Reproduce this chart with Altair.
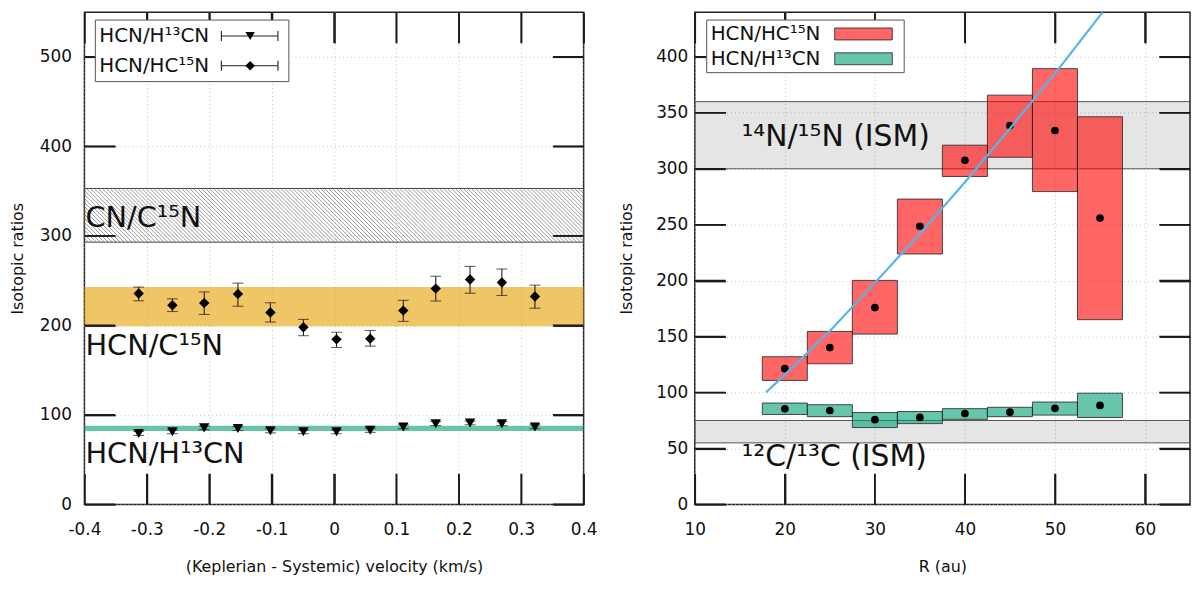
import numpy as np
import pandas as pd
import altair as alt

FONT = "DejaVu Sans"

# ---- left panel: ratios per velocity channel ----
vel = [-0.313, -0.259, -0.208, -0.154, -0.102, -0.049, 0.004, 0.058, 0.111, 0.163, 0.218, 0.269, 0.322]
hc15n = [235.6, 222.5, 225.0, 235.2, 214.4, 197.9, 184.4, 185.2, 216.5, 241.1, 251.3, 248.0, 232.3]
hc15n_lo = [227.5, 215.5, 212.2, 221.4, 203.8, 188.5, 175.3, 176.8, 204.5, 227.2, 235.9, 233.4, 219.2]
hc15n_hi = [242.8, 229.7, 237.4, 247.2, 225.3, 206.7, 192.4, 194.3, 228.0, 254.9, 265.9, 263.0, 245.0]
h13cn = [79.2, 81.1, 85.5, 84.7, 82.2, 81.1, 81.1, 82.8, 86.6, 90.2, 91.0, 90.2, 86.6]
h13cn_lo = [77.0, 79.0, 83.5, 82.5, 80.0, 79.0, 79.0, 80.5, 84.5, 88.0, 89.0, 88.0, 84.5]
h13cn_hi = [81.5, 83.0, 87.5, 87.0, 84.5, 83.0, 83.0, 85.0, 88.8, 92.5, 93.0, 92.5, 88.8]

band_cn = [293, 353]      # CN/C15N (hatched)
band_hcn15 = [199, 243]   # HCN/C15N
band_hcn13 = [82, 88]     # HCN/H13CN
band_labels = ["CN/C¹⁵N", "HCN/C¹⁵N", "HCN/H¹³CN"]
left_legend = ["HCN/H¹³CN", "HCN/HC¹⁵N"]

vel_ticks = [-0.4, -0.3, -0.2, -0.1, 0.0, 0.1, 0.2, 0.3, 0.4]
left_y_ticks = [0, 100, 200, 300, 400, 500]

# ---- right panel: ratios per radius bin ----
r_mid = [20, 25, 30, 35, 40, 45, 50, 55]
r_left = [17.5, 22.5, 27.5, 32.5, 37.5, 42.5, 47.5, 52.5]
r_right = [22.5, 27.5, 32.5, 37.5, 42.5, 47.5, 52.5, 57.5]
n15_val = [121.3, 140.2, 175.9, 248.6, 307.6, 338.6, 334.2, 255.9]
n15_lo = [110.8, 125.7, 152.2, 223.8, 293.1, 310.3, 279.6, 165.1]
n15_hi = [132.0, 154.6, 200.2, 272.9, 321.1, 365.8, 389.5, 346.5]
c13_val = [85.4, 83.9, 75.7, 77.7, 81.2, 82.4, 85.9, 88.5]
c13_lo = [80.4, 78.4, 68.7, 72.2, 76.0, 78.4, 79.8, 77.7]
c13_hi = [90.6, 89.1, 82.1, 83.0, 85.6, 86.8, 91.5, 99.4]

fit_r = [17.9, 20, 25, 30, 35, 40, 45, 50, 55.3]
fit_val = [100, 116, 155, 198, 242, 288, 336, 385, 440]

ism_n = [300, 360]
ism_c = [55, 75]
ism_labels = ["¹⁴N/¹⁵N (ISM)", "¹²C/¹³C (ISM)"]
right_legend = ["HCN/HC¹⁵N", "HCN/H¹³CN"]

r_ticks = [10, 20, 30, 40, 50, 60]
right_y_ticks = [0, 50, 100, 150, 200, 250, 300, 350, 400]

RED = "#FF0000"
GREEN = "#009E73"
ORANGE = "#E69F00"
BLUE = "#56B4E9"
INK = "#111111"
TICK = "#1a1a1a"

W1, W2, H = 503, 499, 496
TL = 31    # inward tick length, px
TW = 1.6   # tick width, px

L_X = [-0.4, 0.4]
L_Y = [0, 550]
R_X = [10, 65]
R_Y = [0, 440]

# ticks point into the plot: axis pulled inside by TL, ticks TL long back to the frame
tick_style = dict(ticks=True, tickSize=TL, offset=-TL, tickColor=TICK, tickWidth=TW,
                  domain=False)
main_axis = dict(
    labelFont=FONT, labelFontSize=17, labelColor=INK, labelFlush=False,
    titleFont=FONT, titleFontSize=16, titleFontWeight="normal", titleColor=INK,
    grid=True, gridColor="#c4c4c4", gridDash=[1, 3], gridWidth=1, **tick_style,
)
mirror_axis = dict(labels=False, grid=False, title=None, **tick_style)

ax_lx = alt.Axis(values=vel_ticks, title="(Keplerian - Systemic) velocity (km/s)",
                 labelExpr="datum.value == 0 ? '0' : replace(format(datum.value, '.1f'), '\u2212', '-')",
                 labelPadding=17, titlePadding=22, **main_axis)
ax_ly = alt.Axis(values=left_y_ticks, title="Isotopic ratios", labelPadding=13,
                 titlePadding=14, **main_axis)
ax_rx = alt.Axis(values=r_ticks, title="R (au)", labelPadding=17, titlePadding=22, **main_axis)
ax_ry = alt.Axis(values=right_y_ticks, title="Isotopic ratios", labelPadding=7,
                 titlePadding=21, **main_axis)
ax_lx_top = alt.Axis(values=vel_ticks, orient="top", **mirror_axis)
ax_ly_right = alt.Axis(values=left_y_ticks, orient="right", **mirror_axis)
ax_rx_top = alt.Axis(values=r_ticks, orient="top", **mirror_axis)
ax_ry_right = alt.Axis(values=right_y_ticks, orient="right", **mirror_axis)

sc_lx = alt.Scale(domain=L_X, nice=False, zero=False)
sc_ly = alt.Scale(domain=L_Y, nice=False)
sc_rx = alt.Scale(domain=R_X, nice=False, zero=False)
sc_ry = alt.Scale(domain=R_Y, nice=False)


def lx(f, axis=None):
    return alt.X(f, type="quantitative", scale=sc_lx, axis=axis)


def ly(f, axis=None):
    return alt.Y(f, type="quantitative", scale=sc_ly, axis=axis)


def rx(f, axis=None):
    return alt.X(f, type="quantitative", scale=sc_rx, axis=axis)


def ry(f, axis=None):
    return alt.Y(f, type="quantitative", scale=sc_ry, axis=axis)


def band_df(b):
    return pd.DataFrame({"lo": [b[0]], "hi": [b[1]]})


def tick_marks(xvals, yvals, xenc, yenc, dx, dy, w):
    # the same inward ticks again as thin rects, so they show whatever the axis does
    ux = (dx[1] - dx[0]) / w
    uy = (dy[1] - dy[0]) / H
    rows = []
    for v in yvals:
        for e0, e1 in [(dx[0], dx[0] + TL * ux), (dx[1] - TL * ux, dx[1])]:
            rows.append({"px0": e0, "px1": e1, "py0": v - TW / 2 * uy, "py1": v + TW / 2 * uy})
    for v in xvals:
        for e0, e1 in [(dy[0], dy[0] + TL * uy), (dy[1] - TL * uy, dy[1])]:
            rows.append({"px0": v - TW / 2 * ux, "px1": v + TW / 2 * ux, "py0": e0, "py1": e1})
    return alt.Chart(pd.DataFrame(rows)).mark_rect(fill=TICK, clip=True).encode(
        x=xenc("px0"), x2="px1", y=yenc("py0"), y2="py1")


# ================= left panel =================
left_df = pd.DataFrame({
    "v": vel, "n15": hc15n, "n15_lo": hc15n_lo, "n15_hi": hc15n_hi,
    "c13": h13cn, "c13_lo": h13cn_lo, "c13_hi": h13cn_hi,
})
base_l = alt.Chart(left_df)

# hatch pattern for the CN/C15N band (45 degree lines, ~4 px apart)
d = (band_cn[1] - band_cn[0]) * (H / 550) * (0.8 / W1)
step = 4 * 0.8 / W1
x0 = np.arange(-0.4 - d, 0.4 + step, step)
hatch = pd.DataFrame({"xa": x0, "xb": x0 + d, "ya": band_cn[1], "yb": band_cn[0]})

left_layers = [
    # carries the main axes (bottom/left) and the mirrored ones (top/right)
    base_l.mark_point(opacity=0).encode(x=lx("v", ax_lx), y=ly("n15", ax_ly)),
    base_l.mark_point(opacity=0).encode(x=lx("v", ax_lx_top), y=ly("n15", ax_ly_right)),
    alt.Chart(hatch).mark_rule(clip=True, color="#808080", strokeWidth=0.8).encode(
        x=lx("xa"), x2="xb", y=ly("ya"), y2="yb"),
    alt.Chart(band_df(band_cn)).mark_rect(fillOpacity=0, stroke="#444444", strokeWidth=1).encode(
        x=alt.value(0), x2=alt.value(W1), y=ly("lo"), y2="hi"),
    alt.Chart(band_df(band_hcn15)).mark_rect(fill=ORANGE, fillOpacity=0.6).encode(
        x=alt.value(0), x2=alt.value(W1), y=ly("lo"), y2="hi"),
    alt.Chart(band_df(band_hcn13)).mark_rect(fill=GREEN, fillOpacity=0.6).encode(
        x=alt.value(0), x2=alt.value(W1), y=ly("lo"), y2="hi"),
    tick_marks(vel_ticks, left_y_ticks, lx, ly, L_X, L_Y, W1),
]

err = dict(color="#222222", strokeWidth=1.1)
for mid, lo, hi, shape in [("n15", "n15_lo", "n15_hi", "diamond"),
                           ("c13", "c13_lo", "c13_hi", "triangle-down")]:
    left_layers += [
        base_l.mark_rule(**err).encode(x=lx("v"), y=ly(lo), y2=hi),
        base_l.mark_tick(orient="horizontal", size=11, thickness=1.1, color="#222222").encode(
            x=lx("v"), y=ly(lo)),
        base_l.mark_tick(orient="horizontal", size=11, thickness=1.1, color="#222222").encode(
            x=lx("v"), y=ly(hi)),
        base_l.mark_point(shape=shape, filled=True, size=110, color="black", opacity=1).encode(
            x=lx("v"), y=ly(mid)),
    ]

for lab, ypx in zip(band_labels, [216, 345, 454]):
    left_layers.append(
        alt.Chart(pd.DataFrame({"label": [lab]})).mark_text(
            align="left", baseline="alphabetic", font=FONT, fontSize=29, color=INK
        ).encode(x=alt.value(1), y=alt.value(ypx), text="label:N"))

# left legend
left_layers.append(
    alt.Chart(pd.DataFrame({"k": [0]})).mark_rect(fill="white", stroke="#555555", strokeWidth=1).encode(
        x=alt.value(11), x2=alt.value(206), y=alt.value(8), y2=alt.value(70)))
for lab, shape, ypx in zip(left_legend, ["triangle-down", "diamond"], [24, 54]):
    one = alt.Chart(pd.DataFrame({"label": [lab]}))
    left_layers += [
        one.mark_text(align="left", baseline="middle", font=FONT, fontSize=20, color=INK).encode(
            x=alt.value(15), y=alt.value(ypx), text="label:N"),
        one.mark_rule(**err).encode(x=alt.value(138), x2=alt.value(195), y=alt.value(ypx)),
        one.mark_rule(**err).encode(x=alt.value(138), y=alt.value(ypx - 5), y2=alt.value(ypx + 5)),
        one.mark_rule(**err).encode(x=alt.value(195), y=alt.value(ypx - 5), y2=alt.value(ypx + 5)),
        one.mark_point(shape=shape, filled=True, size=90, color="black", opacity=1).encode(
            x=alt.value(167), y=alt.value(ypx)),
    ]

left = (
    alt.layer(*left_layers)
    .resolve_axis(x="independent", y="independent")
    .properties(width=W1, height=H)
)

# ================= right panel =================
right_df = pd.DataFrame({
    "r": r_mid, "r0": r_left, "r1": r_right,
    "n15": n15_val, "n15_lo": n15_lo, "n15_hi": n15_hi,
    "c13": c13_val, "c13_lo": c13_lo, "c13_hi": c13_hi,
})
fit_df = pd.DataFrame({"r": fit_r, "v": fit_val})
base_r = alt.Chart(right_df)

right_layers = [
    base_r.mark_point(opacity=0).encode(x=rx("r", ax_rx), y=ry("n15", ax_ry)),
    base_r.mark_point(opacity=0).encode(x=rx("r", ax_rx_top), y=ry("n15", ax_ry_right)),
]
right_layers += [
    alt.Chart(band_df(b)).mark_rect(fill="black", fillOpacity=0.1, stroke="#555555", strokeWidth=1).encode(
        x=alt.value(0), x2=alt.value(W2), y=ry("lo"), y2="hi")
    for b in (ism_n, ism_c)
]
right_layers.append(tick_marks(r_ticks, right_y_ticks, rx, ry, R_X, R_Y, W2))

box = dict(fillOpacity=0.6, stroke="#222222", strokeOpacity=0.8, strokeWidth=1)
right_layers += [
    base_r.mark_rect(fill=RED, **box).encode(x=rx("r0"), x2="r1", y=ry("n15_lo"), y2="n15_hi"),
    base_r.mark_rect(fill=GREEN, **box).encode(x=rx("r0"), x2="r1", y=ry("c13_lo"), y2="c13_hi"),
    base_r.mark_circle(size=60, color="black", opacity=1).encode(x=rx("r"), y=ry("n15")),
    base_r.mark_circle(size=60, color="black", opacity=1).encode(x=rx("r"), y=ry("c13")),
    alt.Chart(fit_df).mark_line(color=BLUE, strokeWidth=2.2, clip=True).encode(x=rx("r"), y=ry("v")),
]

for lab, ypx in zip(ism_labels, [135, 457]):
    right_layers.append(
        alt.Chart(pd.DataFrame({"label": [lab]})).mark_text(
            align="left", baseline="alphabetic", font=FONT, fontSize=30, color=INK
        ).encode(x=alt.value(47), y=alt.value(ypx), text="label:N"))

# right legend
right_layers.append(
    alt.Chart(pd.DataFrame({"k": [0]})).mark_rect(fill="white", stroke="#555555", strokeWidth=1).encode(
        x=alt.value(12), x2=alt.value(211), y=alt.value(8), y2=alt.value(61)))
for lab, col, ypx in zip(right_legend, [RED, GREEN], [22, 47]):
    one = alt.Chart(pd.DataFrame({"label": [lab]}))
    right_layers += [
        one.mark_text(align="left", baseline="middle", font=FONT, fontSize=20, color=INK).encode(
            x=alt.value(16), y=alt.value(ypx), text="label:N"),
        one.mark_rect(fill=col, **box).encode(
            x=alt.value(141), x2=alt.value(199), y=alt.value(ypx - 6), y2=alt.value(ypx + 6)),
    ]

right = (
    alt.layer(*right_layers)
    .resolve_axis(x="independent", y="independent")
    .properties(width=W2, height=H)
)

chart = (
    alt.hconcat(left, right, spacing=19)
    .properties(padding={"left": 0, "top": 0, "right": 0, "bottom": 0}, background="white")
    .configure_view(stroke="#222222", strokeWidth=1.5)
)

chart.save("out.html", embed_options={"renderer": "svg", "actions": False})
